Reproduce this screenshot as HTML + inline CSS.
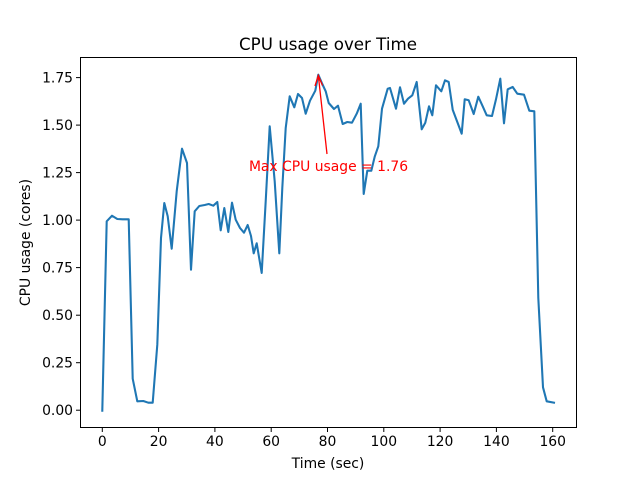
<!DOCTYPE html>
<html><head><meta charset="utf-8"><style>body{margin:0;background:#fff}svg{display:block}text{font-family:"DejaVu Sans","Liberation Sans",sans-serif}</style></head>
<body>
<svg width="640" height="480" viewBox="0 0 640 480" xmlns="http://www.w3.org/2000/svg">
<rect width="640" height="480" fill="#fff"/>
<polyline fill="none" stroke="#1f77b4" stroke-width="2.08" stroke-linejoin="round" stroke-linecap="square" points="102.3,410.7 106.7,221.3 112,215.7 117.3,219 122.7,219.3 128.7,219.3 132.7,378.7 137.3,401.3 143.3,401 148.3,402.7 152.7,402.7 157.3,344.7 161,238 164.3,203 167.7,216.3 171.7,248.7 176.7,191.3 182,148.7 187,163 191,269.7 194.7,211.3 199.3,206 204.7,205 208.7,204 213.3,205.7 217.3,202 220.7,230.3 224.3,208 228.3,232 232,202.7 235.7,219.7 240,228 244,232.7 247.7,225 251,236 253.7,253.3 256.7,243.3 261.7,273 265.7,201.3 269.7,126.3 274.7,181.3 279.3,253.3 282.3,188 285.7,128 289.7,96.3 294.3,107.3 298,94 302,98 305.7,113.7 310,100.7 315.3,90.7 318.3,74.7 322.3,84 325.7,91.3 328.7,103 334,109 338,105.7 342.7,124 347.3,122 352,122.7 356.7,113.7 360.7,103.7 363.7,194 367.3,170.7 371.3,170.7 374.7,156.7 378.3,146.3 382,108.7 387.7,88.7 390,88 396,108.7 400,87.3 404,103.7 408,98.7 412.3,95.3 416.7,82 421.7,129.3 425.3,122.7 429,106.3 432.3,115.3 436,85.3 441.3,91.3 445,80.3 448.7,82 452.7,109.7 457.3,122 461.7,133.7 464.7,99.3 468.7,100.3 473.7,114 478.3,96.7 482.7,106.3 486.7,115.3 492,116 496,99.3 500.3,78.7 504,123.3 507.7,89.3 512.7,87 517.3,93.7 524,94.7 529.3,110.7 534.3,111.3 538.3,298 543,387.3 546.7,401.3 554,402.7"/>
<line x1="327" y1="154" x2="318.5" y2="77" stroke="red" stroke-width="1.3"/>
<polyline points="315,86 318.3,75.5 322.5,85.5" fill="none" stroke="red" stroke-width="1.3"/>
<text x="328.5" y="171" fill="red" font-size="13.9" text-anchor="middle">Max CPU usage = 1.76</text>
<rect x="80.5" y="57.5" width="496" height="370" fill="none" stroke="#000" stroke-width="1"/>
<g stroke="#000" stroke-width="1">
<line x1="102.3" y1="427.5" x2="102.3" y2="432"/><line x1="158.6" y1="427.5" x2="158.6" y2="432"/><line x1="214.9" y1="427.5" x2="214.9" y2="432"/><line x1="271.2" y1="427.5" x2="271.2" y2="432"/><line x1="327.5" y1="427.5" x2="327.5" y2="432"/><line x1="383.8" y1="427.5" x2="383.8" y2="432"/><line x1="440.1" y1="427.5" x2="440.1" y2="432"/><line x1="496.4" y1="427.5" x2="496.4" y2="432"/><line x1="552.7" y1="427.5" x2="552.7" y2="432"/>
<line x1="76" y1="410.2" x2="80.5" y2="410.2"/><line x1="76" y1="362.7" x2="80.5" y2="362.7"/><line x1="76" y1="315.2" x2="80.5" y2="315.2"/><line x1="76" y1="267.6" x2="80.5" y2="267.6"/><line x1="76" y1="220.1" x2="80.5" y2="220.1"/><line x1="76" y1="172.6" x2="80.5" y2="172.6"/><line x1="76" y1="125.1" x2="80.5" y2="125.1"/><line x1="76" y1="77.6" x2="80.5" y2="77.6"/>
</g>
<g font-size="13.9" text-anchor="middle" fill="#000">
<text x="102.3" y="446">0</text><text x="158.6" y="446">20</text><text x="214.9" y="446">40</text><text x="271.2" y="446">60</text><text x="327.5" y="446">80</text><text x="383.8" y="446">100</text><text x="440.1" y="446">120</text><text x="496.4" y="446">140</text><text x="552.7" y="446">160</text>
</g>
<g font-size="13.9" text-anchor="end" fill="#000">
<text x="73" y="415">0.00</text><text x="73" y="367.5">0.25</text><text x="73" y="320">0.50</text><text x="73" y="272.4">0.75</text><text x="73" y="224.9">1.00</text><text x="73" y="177.4">1.25</text><text x="73" y="129.9">1.50</text><text x="73" y="82.4">1.75</text>
</g>
<text x="328" y="468" font-size="13.9" text-anchor="middle">Time (sec)</text>
<text transform="translate(30,242.5) rotate(-90)" font-size="13.9" text-anchor="middle">CPU usage (cores)</text>
<text x="328" y="50" font-size="16.67" text-anchor="middle">CPU usage over Time</text>
</svg>
</body></html>
